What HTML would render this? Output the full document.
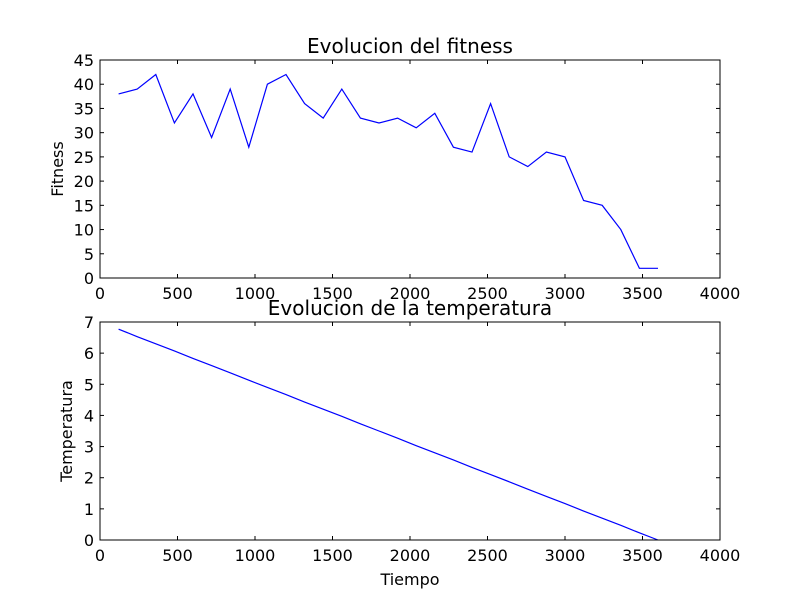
<!DOCTYPE html>
<html><head><meta charset="utf-8"><style>
body{margin:0;background:#fff;}
svg text{font-family:"DejaVu Sans","Liberation Sans",sans-serif;fill:#000;}
</style></head><body>
<svg id="c" width="800" height="600" xmlns="http://www.w3.org/2000/svg">
<rect width="800" height="600" fill="#fff"/>
</svg>
<script>
const xValues=[120,240,360,480,600,720,840,960,1080,1200,1320,1440,1560,1680,1800,1920,2040,2160,2280,2400,2520,2640,2760,2880,3000,3120,3240,3360,3480,3600];
const fitness=[38,39,42,32,38,29,39,27,40,42,36,33,39,33,32,33,31,34,27,26,36,25,23,26,25,16,15,10,2,2];
const temperatura=[6.77,6.53,6.30,6.07,5.83,5.60,5.37,5.13,4.90,4.67,4.43,4.20,3.97,3.73,3.50,3.27,3.03,2.80,2.57,2.33,2.10,1.87,1.63,1.40,1.17,0.93,0.70,0.47,0.23,0.00];
const xTicks=[0,500,1000,1500,2000,2500,3000,3500,4000];
const yTicksTop=[0,5,10,15,20,25,30,35,40,45];
const yTicksBot=[0,1,2,3,4,5,6,7];
const svg=document.getElementById('c');
const NS='http://www.w3.org/2000/svg';
function el(t,a,p){const e=document.createElementNS(NS,t);for(const k in a)e.setAttribute(k,a[k]);(p||svg).appendChild(e);return e;}
function panel(name,top,bottom,ymax,yTicks,vals,title,ylabel,xlabel){
  const L=100,R=720;
  const g=el('g',{});
  
  
  const sx=v=>L+(v-0)/4000*(R-L);
  const sy=v=>bottom-v/ymax*(bottom-top);
  const pts=xValues.map((x,i)=>sx(x).toFixed(2)+','+sy(vals[i]).toFixed(2)).join(' ');
  const line=el('polyline',{points:pts,fill:'none',stroke:'#0000ff','stroke-width':1.2},g);
  
  
  const fr=el('rect',{x:L,y:top,width:R-L,height:bottom-top,fill:'none',stroke:'#000','stroke-width':1},g);
  
  
  xTicks.forEach(t=>{const x=sx(t);
    el('line',{x1:x,x2:x,y1:bottom,y2:bottom-4,stroke:'#000'},g);
    el('line',{x1:x,x2:x,y1:top,y2:top+4,stroke:'#000'},g);
    const tx=el('text',{x:x,y:bottom+21,'text-anchor':'middle','font-size':16},g);tx.textContent=t;
    
    
  });
  yTicks.forEach(t=>{const y=sy(t);
    el('line',{x1:L,x2:L+4,y1:y,y2:y,stroke:'#000'},g);
    el('line',{x1:R,x2:R-4,y1:y,y2:y,stroke:'#000'},g);
    const ty=el('text',{x:L-6,y:y+6,'text-anchor':'end','font-size':16},g);ty.textContent=t;
    
    
  });
  const ti=el('text',{x:(L+R)/2,y:top-7,'text-anchor':'middle','font-size':20},g);ti.textContent=title;
  
  
  const yl=el('text',{x:0,y:0,'text-anchor':'middle','font-size':16,transform:`translate(${name==='fitness-panel'?63:72},${(top+bottom)/2}) rotate(-90)`},g);yl.textContent=ylabel;
  
  
  if(xlabel){const xl=el('text',{x:(L+R)/2,y:bottom+45,'text-anchor':'middle','font-size':16},g);xl.textContent=xlabel;
    
    }
}
panel('fitness-panel',60,278,45,yTicksTop,fitness,'Evolucion del fitness','Fitness',null);
panel('temperature-panel',322,540,7,yTicksBot,temperatura,'Evolucion de la temperatura','Temperatura','Tiempo');
</script>
</body></html>
